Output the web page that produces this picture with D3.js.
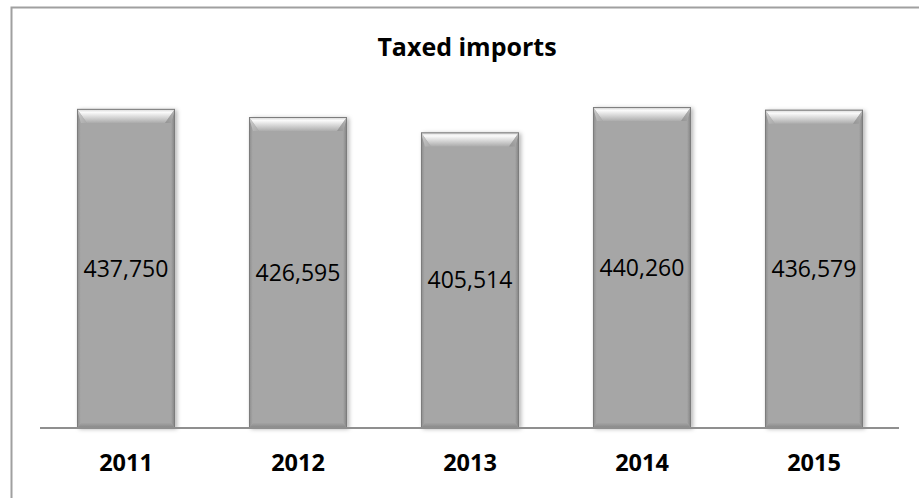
<!DOCTYPE html>
<html>
<head>
<meta charset="utf-8">
<script src="https://cdn.jsdelivr.net/npm/d3@7"></script>
<style>
  html, body { margin: 0; padding: 0; background: #fff; }
  svg { display: block; }
</style>
</head>
<body>
<svg id="chart" width="919" height="498"></svg>
<script>
const title = "Taxed imports";
const categories = ["2011", "2012", "2013", "2014", "2015"];
const values = [437750, 426595, 405514, 440260, 436579];

const W = 919, H = 498;
const svg = d3.select("#chart");
const defs = svg.append("defs");

const font = "'Open Sans', 'Noto Sans', sans-serif";

// gradients
const gTop = defs.append("linearGradient").attr("id", "gTop").attr("x1", 0).attr("y1", 0).attr("x2", 0).attr("y2", 1);
gTop.append("stop").attr("offset", "0%").attr("stop-color", "#d4d4d4");
gTop.append("stop").attr("offset", "25%").attr("stop-color", "#fafafa");
gTop.append("stop").attr("offset", "60%").attr("stop-color", "#d6d6d6");
gTop.append("stop").attr("offset", "100%").attr("stop-color", "#acacac");

const gLeft = defs.append("linearGradient").attr("id", "gLeft").attr("x1", 0).attr("y1", 0).attr("x2", 1).attr("y2", 0);
gLeft.append("stop").attr("offset", "0%").attr("stop-color", "#8a8a8a");
gLeft.append("stop").attr("offset", "100%").attr("stop-color", "#a8a8a8");

const gRight = defs.append("linearGradient").attr("id", "gRight").attr("x1", 0).attr("y1", 0).attr("x2", 1).attr("y2", 0);
gRight.append("stop").attr("offset", "0%").attr("stop-color", "#a6a6a6");
gRight.append("stop").attr("offset", "100%").attr("stop-color", "#808080");

const gBot = defs.append("linearGradient").attr("id", "gBot").attr("x1", 0).attr("y1", 0).attr("x2", 0).attr("y2", 1);
gBot.append("stop").attr("offset", "0%").attr("stop-color", "#a3a3a3");
gBot.append("stop").attr("offset", "100%").attr("stop-color", "#868686");

const gTL = defs.append("linearGradient").attr("id", "gTL").attr("x1", 0).attr("y1", 0).attr("x2", 1).attr("y2", 1);
gTL.append("stop").attr("offset", "0%").attr("stop-color", "#d0d0d0");
gTL.append("stop").attr("offset", "100%").attr("stop-color", "#a9a9a9");

const gTR = defs.append("linearGradient").attr("id", "gTR").attr("x1", 1).attr("y1", 0).attr("x2", 0).attr("y2", 1);
gTR.append("stop").attr("offset", "0%").attr("stop-color", "#b8b8b8");
gTR.append("stop").attr("offset", "100%").attr("stop-color", "#939393");

const shadow = defs.append("filter").attr("id", "shadow").attr("x", "-10%").attr("y", "-10%").attr("width", "130%").attr("height", "130%");
shadow.append("feDropShadow").attr("dx", 2).attr("dy", 1).attr("stdDeviation", 2)
  .attr("flood-color", "#000").attr("flood-opacity", 0.3);

// chart frame (only top and left visible in the crop)
svg.append("rect")
  .attr("x", 11.5).attr("y", 7.5).attr("width", 1000).attr("height", 1000)
  .attr("fill", "none").attr("stroke", "#a0a0a0").attr("stroke-width", 2);

// scales
const x = d3.scaleBand().domain(categories).range([40, 900]).paddingInner(0.43).paddingOuter(0.215);
const y = d3.scaleLinear().domain([0, 500000]).range([428, 63.5]);

// title
svg.append("text")
  .attr("x", 467).attr("y", 56)
  .attr("text-anchor", "middle")
  .attr("font-family", font).attr("font-weight", "bold").attr("font-size", 25)
  .attr("fill", "#000")
  .text(title);

// bars
const data = categories.map((c, i) => ({ c, v: values[i] }));
const bars = svg.append("g").selectAll("g.bar").data(data).join("g").attr("class", "bar");

bars.each(function(d) {
  const g = d3.select(this);
  const x0 = x(d.c), w = x.bandwidth();
  const y0 = y(d.v), y1 = y(0), h = y1 - y0;
  const bt = 14, bs = 4, bb = 5, bc = 10;
  g.append("rect").attr("x", x0).attr("y", y0).attr("width", w).attr("height", h)
    .attr("fill", "#a6a6a6").attr("filter", "url(#shadow)");
  // left bevel
  g.append("polygon").attr("points", [[x0, y0], [x0 + bs, y0 + bt], [x0 + bs, y1 - bb], [x0, y1]].join(" "))
    .attr("fill", "url(#gLeft)");
  // right bevel
  g.append("polygon").attr("points", [[x0 + w, y0], [x0 + w - bs, y0 + bt], [x0 + w - bs, y1 - bb], [x0 + w, y1]].join(" "))
    .attr("fill", "url(#gRight)");
  // bottom bevel
  g.append("polygon").attr("points", [[x0, y1], [x0 + bs, y1 - bb], [x0 + w - bs, y1 - bb], [x0 + w, y1]].join(" "))
    .attr("fill", "url(#gBot)");
  // top bevel
  g.append("polygon").attr("points", [[x0, y0], [x0 + w, y0], [x0 + w - bc, y0 + bt], [x0 + bc, y0 + bt]].join(" "))
    .attr("fill", "url(#gTop)");
  g.append("polygon").attr("points", [[x0, y0], [x0 + bc, y0 + bt], [x0 + bs, y0 + bt]].join(" "))
    .attr("fill", "url(#gTL)");
  g.append("polygon").attr("points", [[x0 + w, y0], [x0 + w - bc, y0 + bt], [x0 + w - bs, y0 + bt]].join(" "))
    .attr("fill", "url(#gTR)");
  // outline
  g.append("rect").attr("x", x0 + 0.5).attr("y", y0 + 0.5).attr("width", w - 1).attr("height", h - 1)
    .attr("fill", "none").attr("stroke", "#7c7c7c").attr("stroke-width", 1);
  // value label
  g.append("text")
    .attr("x", x0 + w / 2).attr("y", (y0 + y1) / 2)
    .attr("dy", "0.36em")
    .attr("text-anchor", "middle")
    .attr("font-family", font).attr("font-size", 23)
    .attr("fill", "#000")
    .text(d3.format(",")(d.v));
});

// baseline
svg.append("line")
  .attr("x1", 40).attr("x2", 899).attr("y1", 428).attr("y2", 428)
  .attr("stroke", "#8f8f8f").attr("stroke-width", 2);

// category axis labels
const xAxis = d3.axisBottom(x).tickSize(0).tickPadding(0);
const ax = svg.append("g").attr("transform", "translate(0,428)").call(xAxis);
ax.select(".domain").remove();
ax.selectAll("text")
  .attr("y", 43)
  .attr("dy", 0)
  .attr("font-family", font).attr("font-weight", "bold").attr("font-size", 23.5)
  .attr("fill", "#000");
</script>
</body>
</html>
